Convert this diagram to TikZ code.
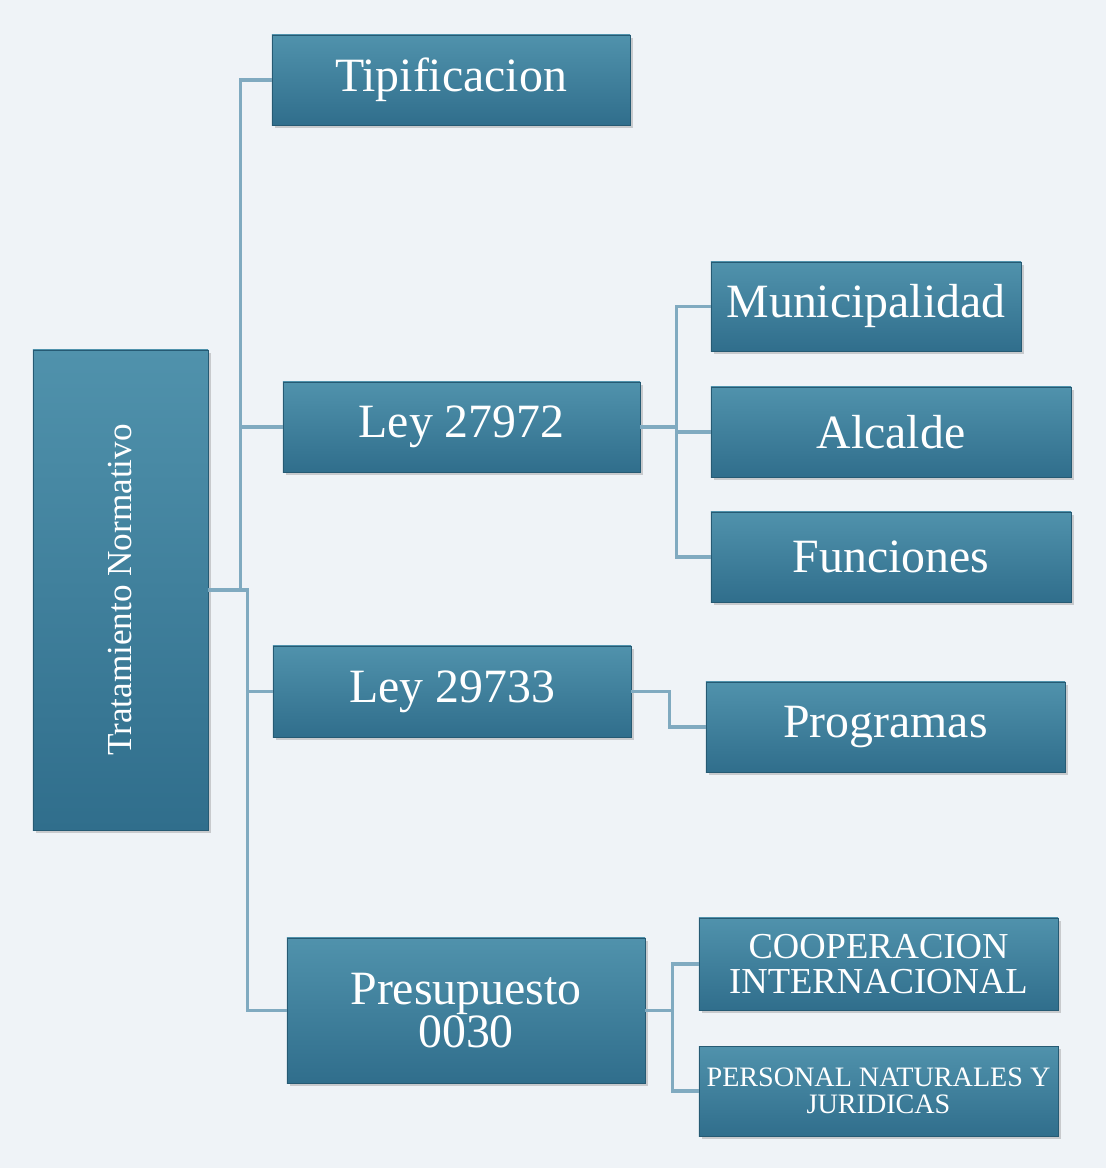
\documentclass[tikz,border=0pt]{standalone}
\usepackage{fontspec}
\setmainfont{Liberation Serif}
\usetikzlibrary{shadows}
\definecolor{bgc}{RGB}{239,243,247}
\definecolor{boxtop}{RGB}{80,146,172}
\definecolor{boxbot}{RGB}{48,110,140}
\definecolor{boxedge}{RGB}{38,90,115}
\definecolor{linec}{RGB}{128,170,192}
\tikzset{
  pbox/.style={draw=boxedge, line width=0.6pt, top color=boxtop, bottom color=boxbot,
    text=white, align=center, inner sep=0pt,
    drop shadow={shadow xshift=2pt, shadow yshift=-2pt, opacity=0.35, fill=gray},
    font=\fontsize{34}{28.5}\selectfont},
  conn/.style={draw=linec, line width=2.6pt}
}
\begin{document}
\begin{tikzpicture}[x=0.025cm, y=-0.025cm]
\fill[bgc] (0,0) rectangle (1106,1168);
\useasboundingbox (0,0) rectangle (1106,1168);

\node[pbox, minimum width=4.375cm, minimum height=12cm] (root) at (120.5,590)
  {\rotatebox{90}{\fontsize{25}{25}\selectfont Tratamiento Normativo}};
\node[pbox, minimum width=8.95cm, minimum height=2.25cm] (tip) at (451,80) {Tipificacion};
\node[pbox, minimum width=8.925cm, minimum height=2.25cm] (ley1) at (461.5,427) {Ley 27972};
\node[pbox, minimum width=8.95cm, minimum height=2.275cm] (ley2) at (452,691.5) {Ley 29733};
\node[pbox, minimum width=8.95cm, minimum height=3.625cm] (pres) at (466,1010.5) {Presupuesto\\0030};
\node[pbox, minimum width=7.75cm, minimum height=2.225cm] (muni) at (866,306.5) {Municipalidad};
\node[pbox, minimum width=9cm, minimum height=2.25cm] (alc) at (891,432) {Alcalde};
\node[pbox, minimum width=9cm, minimum height=2.25cm] (fun) at (891,557) {Funciones};
\node[pbox, minimum width=8.975cm, minimum height=2.25cm] (prog) at (885.5,727) {Programas};
\node[pbox, minimum width=8.975cm, minimum height=2.3cm, font=\fontsize{26}{25}\selectfont] (coop) at (878.5,964) {COOPERACION\\INTERNACIONAL};
\node[pbox, minimum width=8.975cm, minimum height=2.25cm, font=\fontsize{20}{19.5}\selectfont] (pers) at (878.5,1091) {PERSONAL NATURALES Y\\JURIDICAS};

% trunk from root
\draw[conn] (root.east) -- ++(32,0) coordinate (t1) |- (tip.west);
\draw[conn] (t1) |- (ley1.west);
\draw[conn] (root.east) -- ++(39,0) coordinate (t2) |- (ley2.west);
\draw[conn] (t2) |- (pres.west);
% Ley 27972 children
\draw[conn] (ley1.east) -- ++(36,0) coordinate (l1) |- (muni.west);
\draw[conn] (l1) |- (alc.west);
\draw[conn] (l1) |- (fun.west);
% Ley 29733 child
\draw[conn] (ley2.east) -- ++(38,0) |- (prog.west);
% Presupuesto children
\draw[conn] (pres.east) -- ++(27,0) coordinate (p1) |- (coop.west);
\draw[conn] (p1) |- (pers.west);
\end{tikzpicture}
\end{document}
